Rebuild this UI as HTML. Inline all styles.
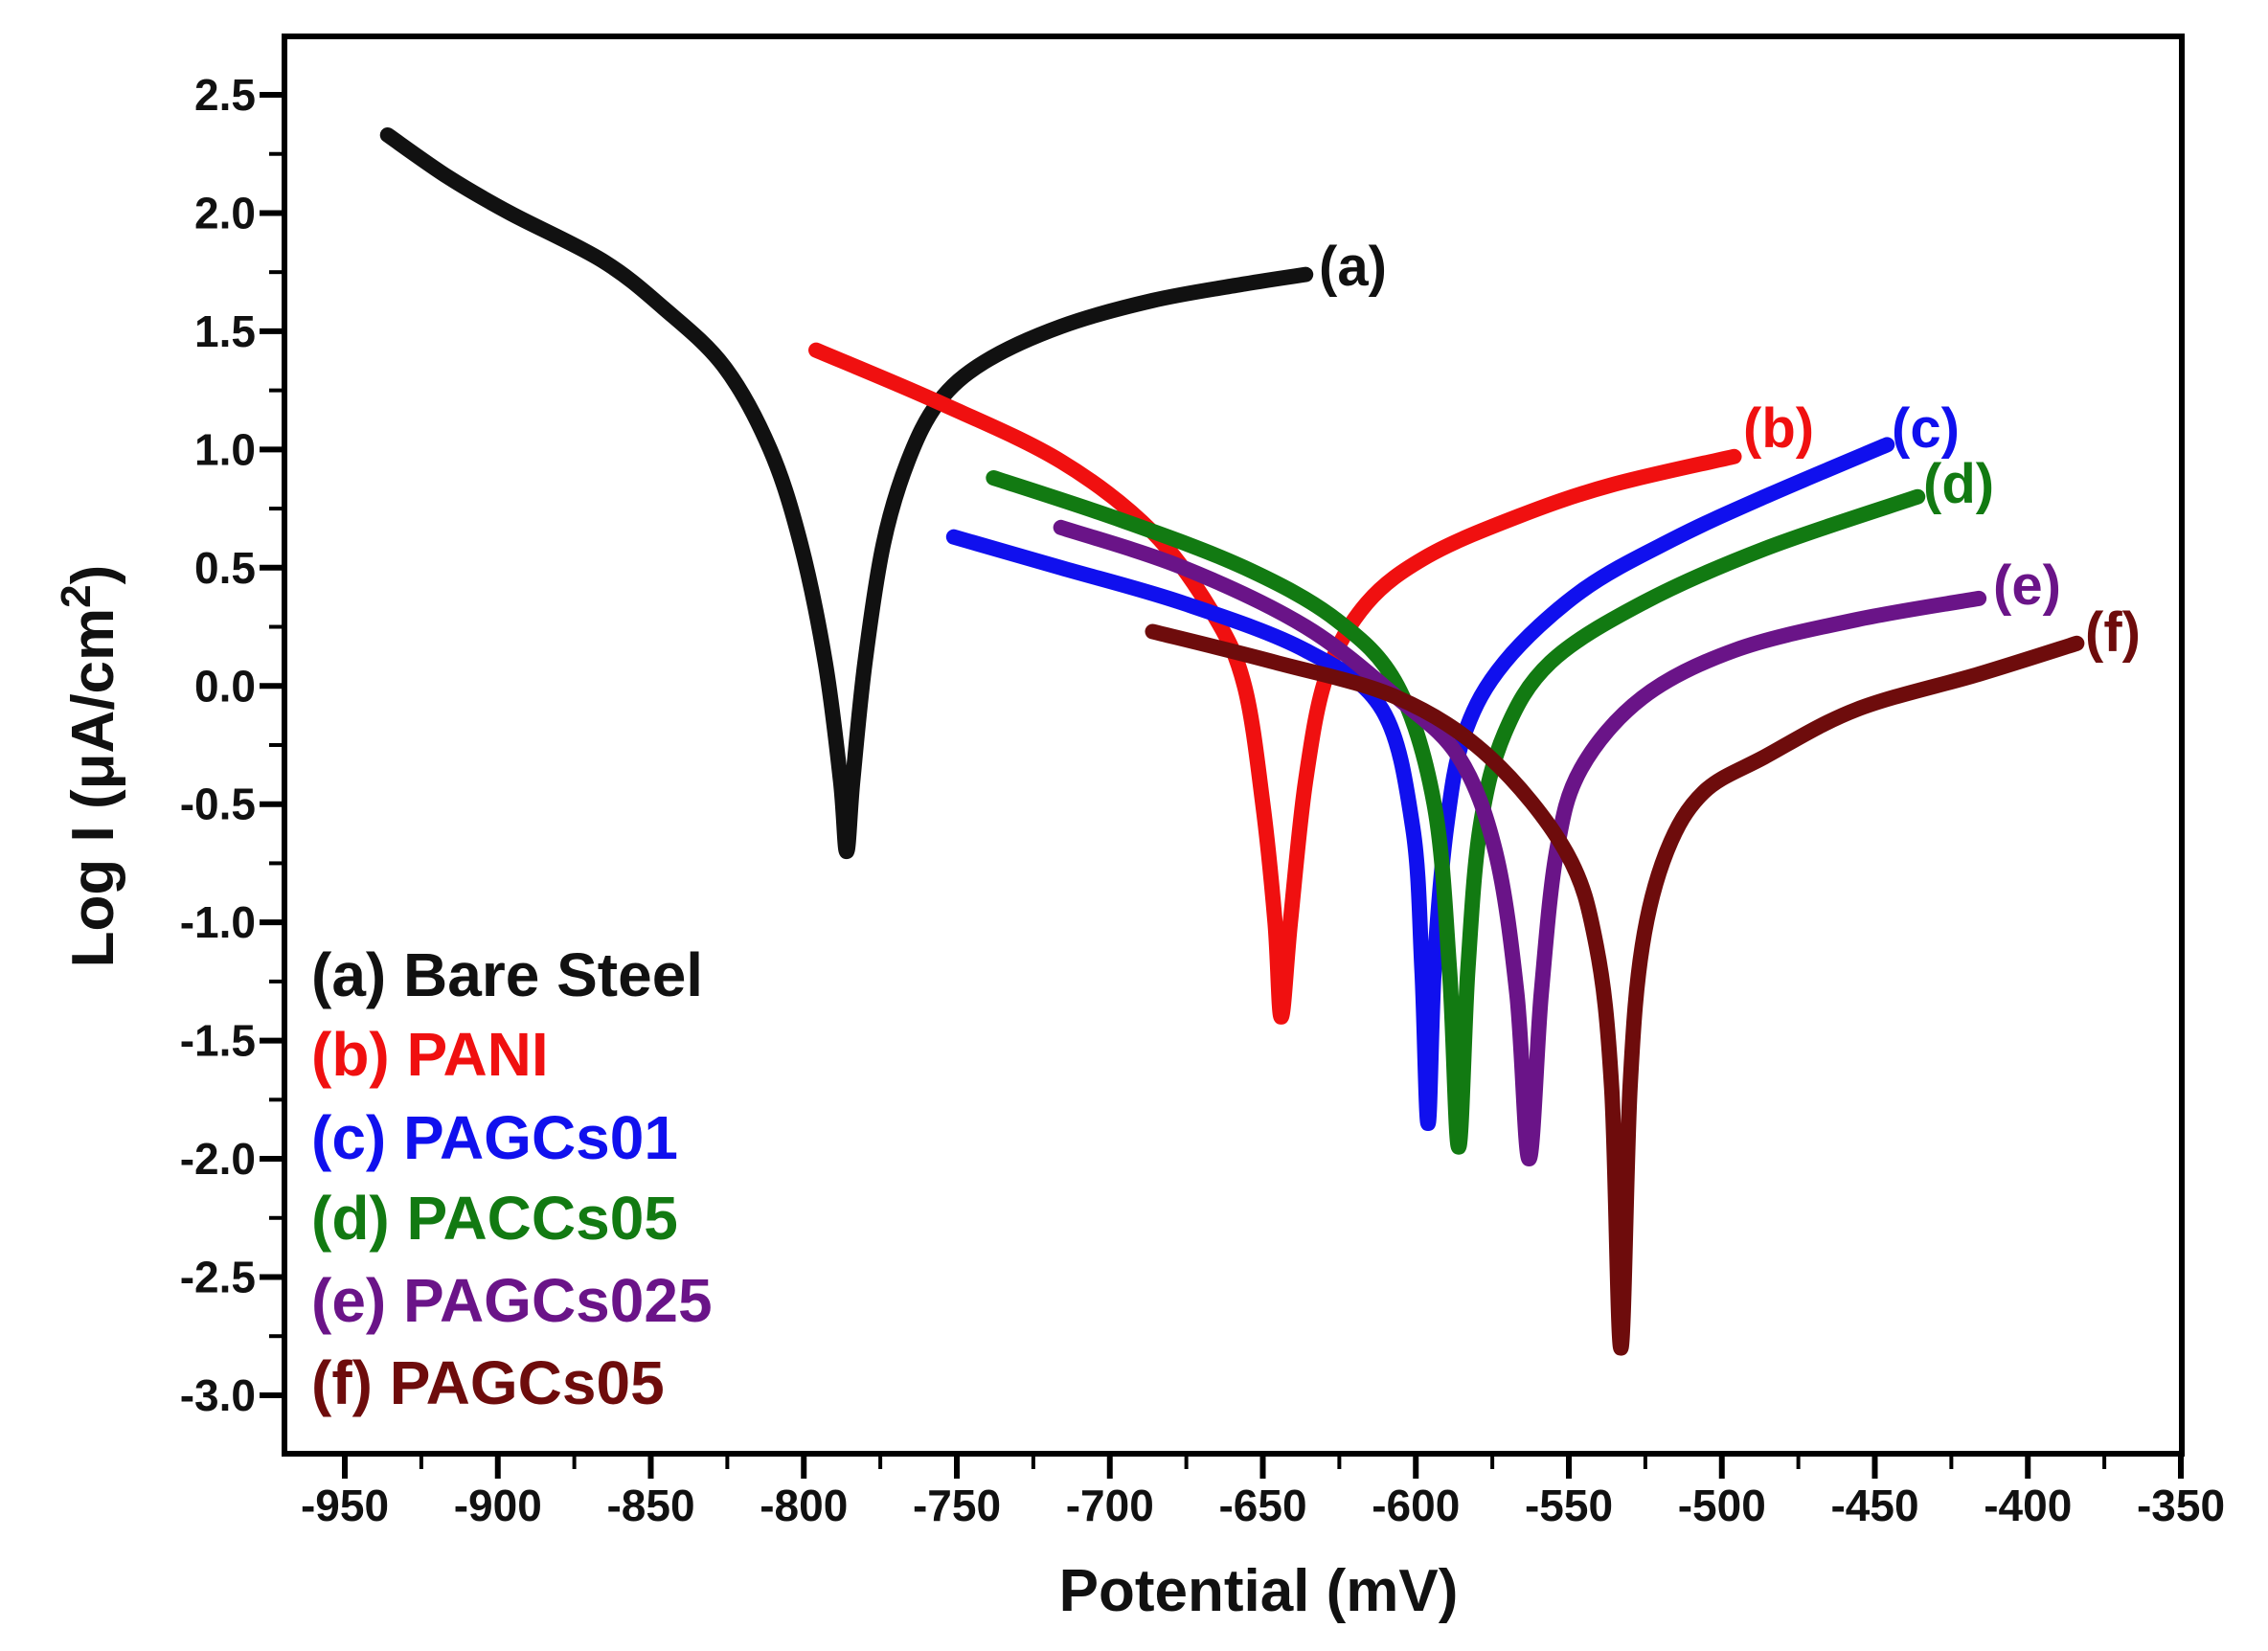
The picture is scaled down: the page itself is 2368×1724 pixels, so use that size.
<!DOCTYPE html>
<html><head><meta charset="utf-8"><style>
html,body{margin:0;padding:0;background:#fff}
svg{display:block}
text{font-family:"Liberation Sans",Arial,sans-serif;font-weight:bold}
</style></head><body>
<svg id="s" width="2368" height="1724" xmlns="http://www.w3.org/2000/svg">
<g id="plot"></g>
<g id="axes"></g>
<text x="325" y="1040" font-size="64" fill="#111">(a) Bare Steel</text>
<text x="325" y="1123" font-size="64" fill="#f01010">(b) PANI</text>
<text x="325" y="1210" font-size="64" fill="#1010ee">(c) PAGCs01</text>
<text x="325" y="1294" font-size="64" fill="#127a12">(d) PACCs05</text>
<text x="325" y="1380" font-size="64" fill="#6a1488">(e) PAGCs025</text>
<text x="325" y="1466" font-size="64" fill="#6e0c0c">(f) PAGCs05</text>
<text x="1377" y="298" font-size="58" fill="#111">(a)</text>
<text x="1820" y="467" font-size="58" fill="#f01010">(b)</text>
<text x="1975" y="467" font-size="58" fill="#1010ee">(c)</text>
<text x="2008" y="525" font-size="58" fill="#127a12">(d)</text>
<text x="2081" y="631" font-size="58" fill="#6a1488">(e)</text>
<text x="2177" y="680" font-size="58" fill="#6e0c0c">(f)</text>
<text x="1314" y="1682" font-size="62" text-anchor="middle" fill="#111">Potential (mV)</text>
<text transform="translate(118,800) rotate(-90)" font-size="62" text-anchor="middle" fill="#111">Log I (μA/cm<tspan font-size="44" dy="-24">2</tspan><tspan dy="24">)</tspan></text>
</svg>
<script>
const X=v=>360+(v+950)*3.195, Y=l=>99+(2.5-l)*246.9;
const L=297,R=2278,T=38,B=1518;
let a=document.getElementById('axes'),h='';
h+=`<rect x="${L}" y="${T}" width="${R-L}" height="${B-T}" fill="none" stroke="#000" stroke-width="6"/>`;
for(let v=-975;v<=-350;v+=25){let x=X(v);if(x<L-2)continue;let maj=(v%50===0);
 h+=`<line x1="${x}" y1="${B}" x2="${x}" y2="${B+(maj?26:16)}" stroke="#000" stroke-width="${maj?6:4}"/>`;
 if(maj)h+=`<text x="${x}" y="${B+70}" font-size="46" text-anchor="middle" fill="#111">${v}</text>`;}
for(let k=-13;k<=11;k++){let l=k*0.25,y=Y(l);if(y<T||y>B)continue;let maj=(k%2===0);
 h+=`<line x1="${L}" y1="${y}" x2="${L-(maj?26:16)}" y2="${y}" stroke="#000" stroke-width="${maj?6:4}"/>`;
 if(maj)h+=`<text x="${L-30}" y="${y+16}" font-size="46" text-anchor="end" fill="#111">${l.toFixed(1)}</text>`;}
a.innerHTML=h;
const C=[
["#111",[[-940,2.33],[-920,2.15],[-900,2.0],[-870,1.8],[-850,1.6],[-830,1.35],[-815,1.0],[-805,0.6],[-797,0.1],[-792,-0.4],[-790,-0.7],[-788,-0.4],[-784,0.1],[-778,0.6],[-770,0.95],[-760,1.2],[-745,1.37],[-720,1.52],[-690,1.63],[-660,1.7],[-640,1.74]]],
["#f01010",[[-800,1.42],[-760,1.2],[-720,0.95],[-690,0.65],[-670,0.3],[-660,0],[-654,-0.5],[-650,-1.0],[-648,-1.4],[-645,-1.0],[-640,-0.4],[-633,0.05],[-620,0.35],[-600,0.55],[-570,0.72],[-540,0.85],[-500,0.97]]],
["#1010ee",[[-755,0.63],[-720,0.5],[-680,0.35],[-640,0.15],[-615,-0.1],[-605,-0.6],[-602,-1.2],[-600,-1.85],[-598,-1.2],[-594,-0.6],[-588,-0.2],[-575,0.1],[-550,0.4],[-520,0.62],[-490,0.8],[-450,1.02]]],
["#127a12",[[-742,0.88],[-700,0.7],[-660,0.5],[-630,0.28],[-610,0.0],[-598,-0.5],[-593,-1.2],[-590,-1.95],[-587,-1.2],[-583,-0.6],[-575,-0.2],[-560,0.1],[-530,0.35],[-490,0.58],[-440,0.8]]],
["#6a1488",[[-720,0.67],[-680,0.5],[-640,0.25],[-610,-0.05],[-590,-0.3],[-578,-0.7],[-571,-1.3],[-567,-2.0],[-563,-1.3],[-558,-0.7],[-550,-0.35],[-530,-0.05],[-500,0.15],[-460,0.28],[-420,0.37]]],
["#6e0c0c",[[-690,0.23],[-650,0.1],[-610,-0.05],[-580,-0.3],[-555,-0.7],[-545,-1.1],[-540,-1.7],[-537,-2.8],[-534,-1.7],[-530,-1.1],[-522,-0.7],[-510,-0.45],[-490,-0.3],[-460,-0.1],[-420,0.05],[-388,0.18]]]];
let g=document.getElementById('plot'),ph='';
for(const [col,pts] of C){const p=pts.map(q=>[X(q[0]+4),Y(q[1])]);
 let d=`M${p[0][0]},${p[0][1]}`;
 for(let i=0;i<p.length-1;i++){const p0=p[Math.max(0,i-1)],p1=p[i],p2=p[i+1],p3=p[Math.min(p.length-1,i+2)];
  d+=` C${p1[0]+(p2[0]-p0[0])/6},${p1[1]+(p2[1]-p0[1])/6} ${p2[0]-(p3[0]-p1[0])/6},${p2[1]-(p3[1]-p1[1])/6} ${p2[0]},${p2[1]}`;}
 ph+=`<path d="${d}" fill="none" stroke="${col}" stroke-width="16" stroke-linejoin="round" stroke-linecap="round"/>`;}
g.innerHTML=ph;
</script>
</body></html>
